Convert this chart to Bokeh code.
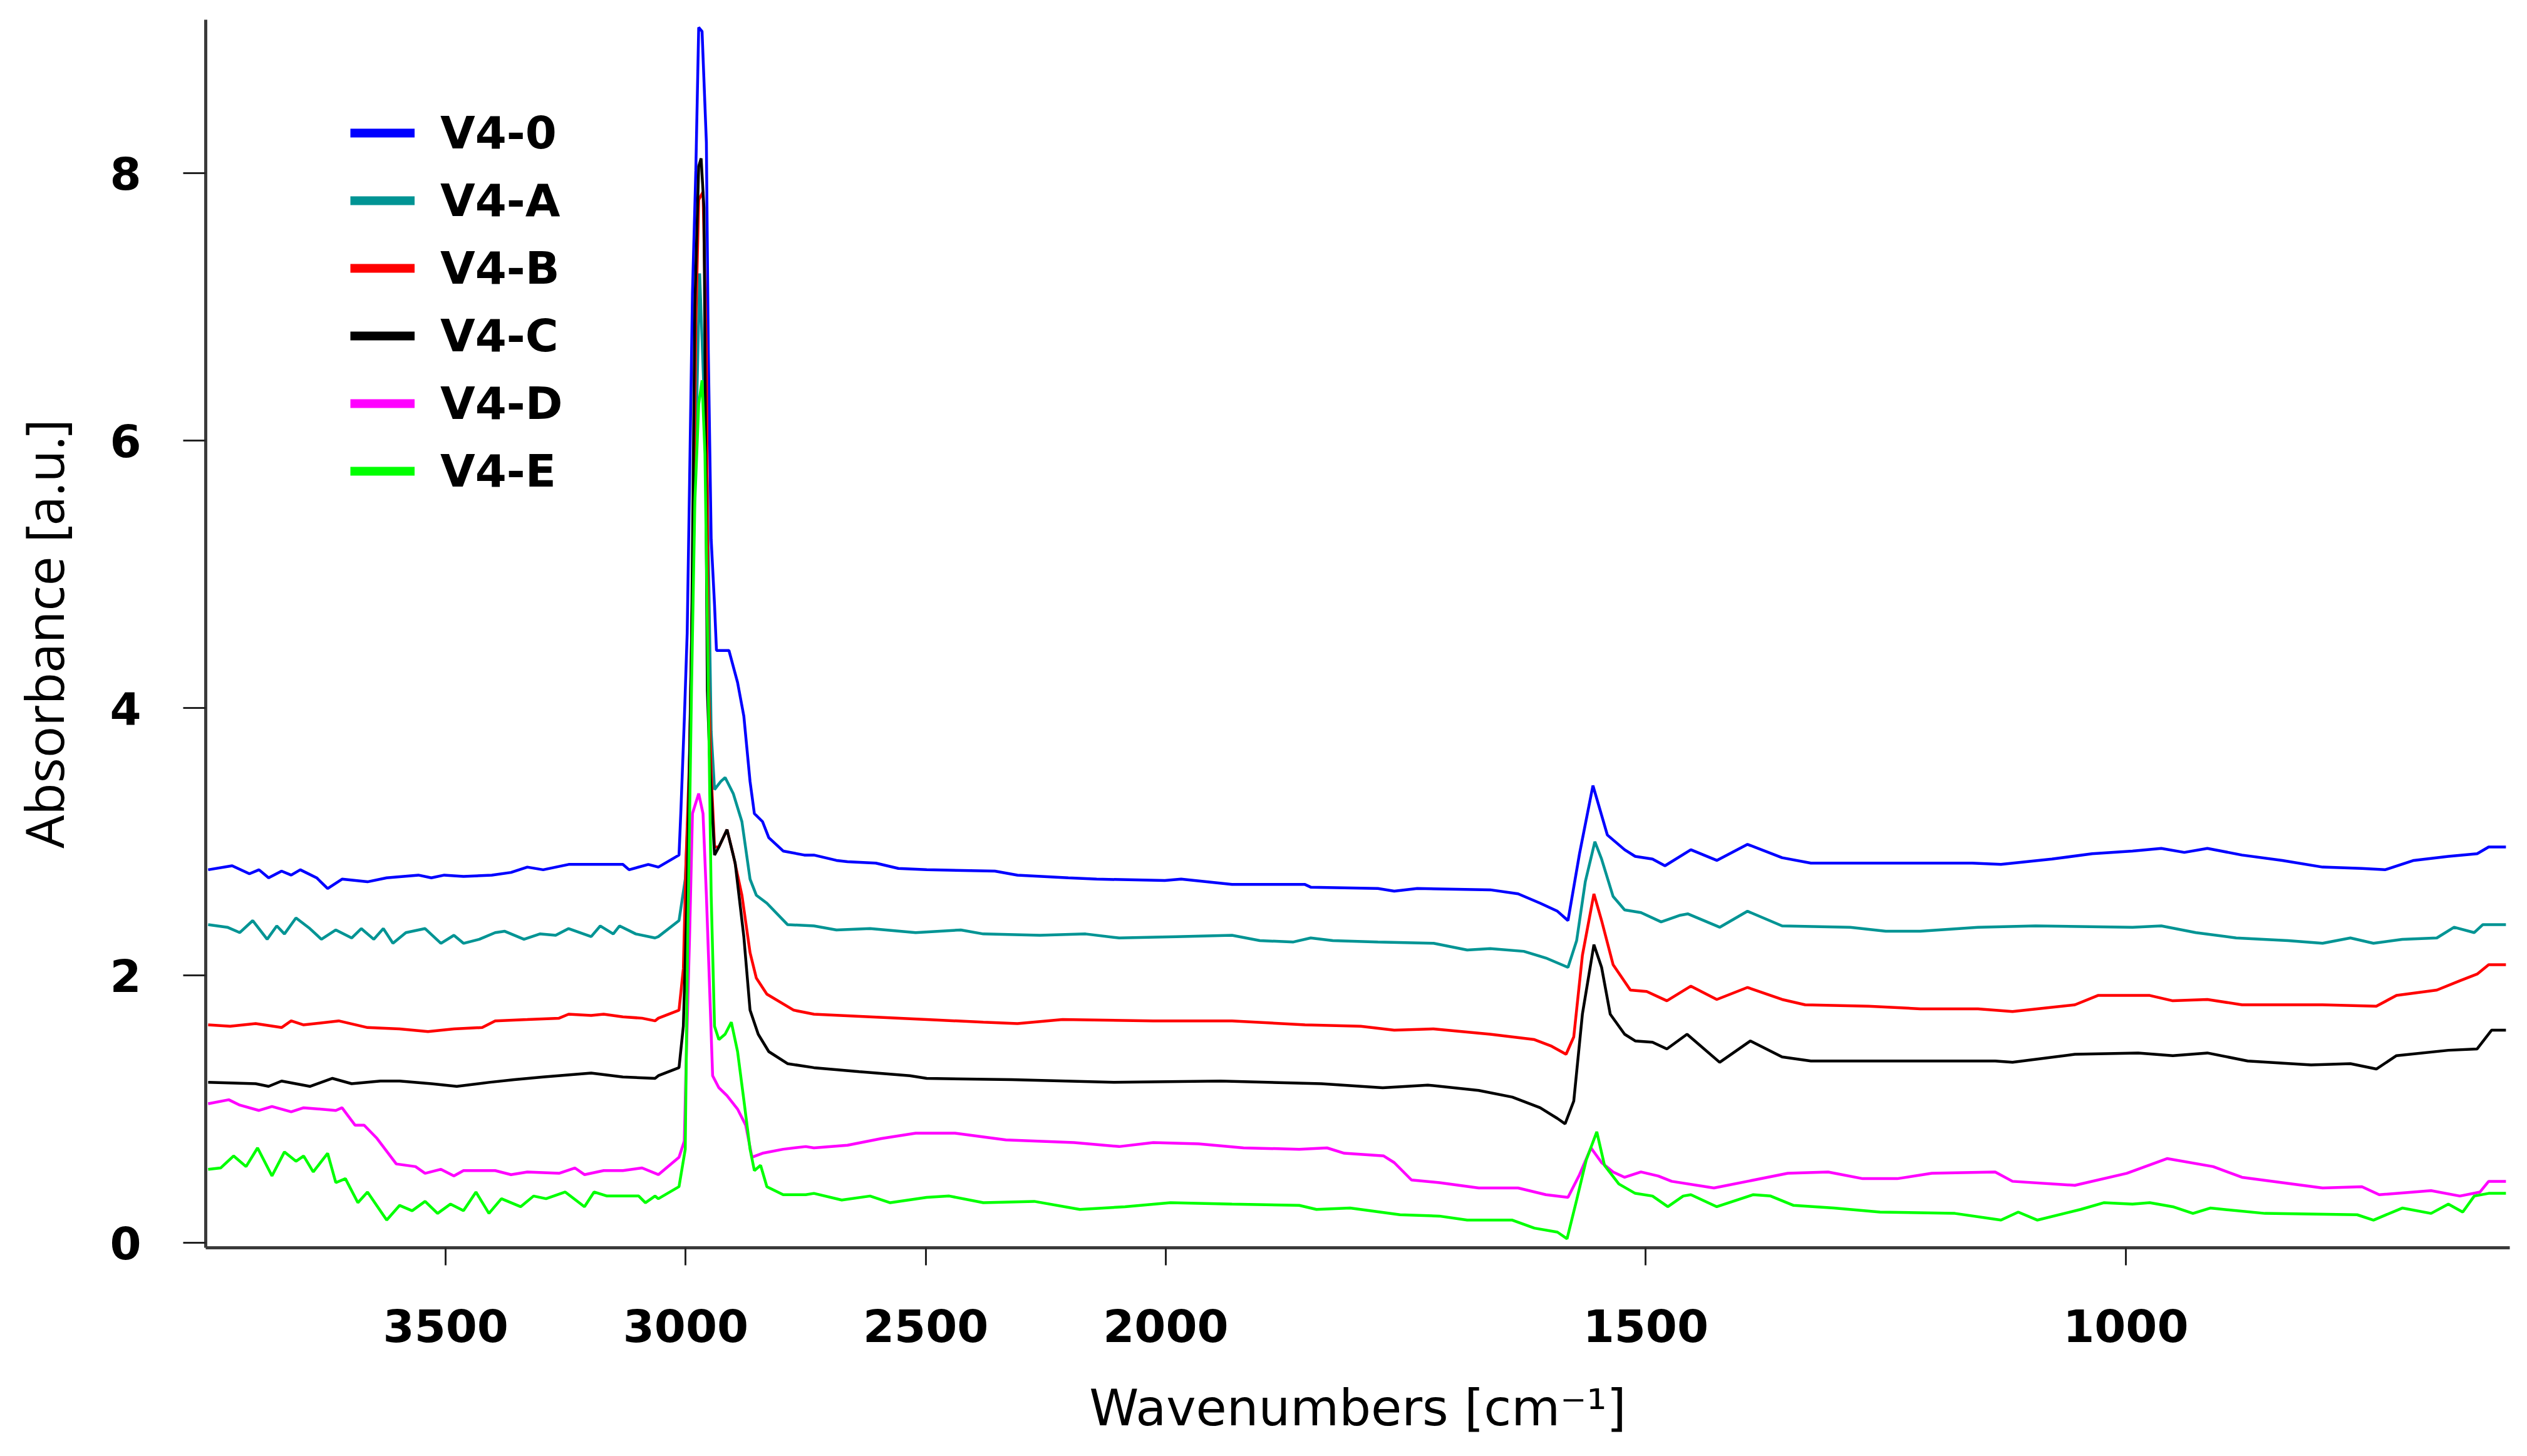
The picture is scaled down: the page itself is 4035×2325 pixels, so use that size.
import numpy as np
from bokeh.plotting import figure
from bokeh.models import Range1d, FixedTicker, Legend, LegendItem
from bokeh.embed import file_html
from bokeh.resources import INLINE

# ---------------- data (wavenumber cm^-1, absorbance a.u.) ----------------
V4_0 = [(3995,2.79),(3945,2.82),(3909,2.76),(3889,2.79),(3869,2.73),(3842,2.78),(3822,2.75),(3803,2.79),
        (3769,2.73),(3746,2.65),(3716,2.72),(3663,2.70),(3623,2.73),(3557,2.75),(3530,2.73),(3503,2.75),
        (3463,2.74),(3404,2.75),(3364,2.77),(3330,2.81),(3297,2.79),(3244,2.83),(3131,2.83),(3118,2.79),
        (3078,2.83),(3057,2.81),(3014,2.90),(3010,3.24),(3003,3.91),(2997,4.56),(2992,5.69),(2986,7.10),
        (2979,8.02),(2973,9.09),(2966,9.06),(2957,8.23),(2953,6.67),(2947,5.26),(2940,4.77),(2936,4.43),
        (2910,4.43),(2892,4.19),(2879,3.94),(2866,3.45),(2857,3.21),(2840,3.15),(2827,3.03),(2797,2.93),
        (2753,2.90),(2733,2.90),(2686,2.86),(2663,2.85),(2604,2.84),(2557,2.80),(2498,2.79),(2356,2.78),
        (2309,2.75),(2203,2.73),(2144,2.72),(2002,2.71),(1984,2.72),(1931,2.68),(1855,2.68),(1849,2.66),
        (1779,2.65),(1762,2.63),(1738,2.65),(1662,2.64),(1633,2.61),(1610,2.54),(1592,2.48),(1581,2.41),
        (1569,2.91),(1555,3.42),(1540,3.05),(1522,2.94),(1511,2.89),(1493,2.87),(1480,2.82),(1453,2.94),
        (1426,2.86),(1394,2.98),(1358,2.88),(1328,2.84),(1160,2.84),(1130,2.83),(1077,2.87),(1035,2.91),
        (993,2.93),(963,2.95),(939,2.92),(915,2.95),(879,2.90),(837,2.86),(795,2.81),(754,2.80),
        (730,2.79),(700,2.86),(664,2.89),(634,2.91),(622,2.96),(604,2.96)]

V4_A = [(3995,2.38),(3955,2.36),(3929,2.32),(3902,2.41),(3872,2.27),(3852,2.37),(3836,2.31),(3812,2.43),
        (3783,2.35),(3759,2.27),(3729,2.34),(3696,2.28),(3676,2.35),(3650,2.27),(3630,2.35),(3610,2.24),
        (3583,2.32),(3543,2.35),(3510,2.24),(3483,2.30),(3463,2.24),(3430,2.27),(3397,2.32),(3377,2.33),
        (3337,2.27),(3304,2.31),(3271,2.30),(3244,2.35),(3197,2.29),(3178,2.37),(3151,2.31),(3138,2.37),
        (3104,2.31),(3064,2.28),(3057,2.29),(3014,2.41),(3001,2.72),(2994,3.30),(2988,4.49),(2981,5.66),
        (2971,7.25),(2955,5.66),(2947,3.82),(2940,3.39),(2927,3.45),(2918,3.48),(2901,3.36),(2883,3.15),
        (2866,2.72),(2853,2.60),(2831,2.54),(2788,2.38),(2733,2.37),(2686,2.34),(2616,2.35),(2521,2.32),
        (2427,2.34),(2380,2.31),(2262,2.30),(2167,2.31),(2097,2.28),(1989,2.29),(1931,2.30),(1902,2.26),
        (1867,2.25),(1849,2.28),(1826,2.26),(1779,2.25),(1721,2.24),(1686,2.19),(1662,2.20),(1627,2.18),
        (1604,2.13),(1581,2.06),(1572,2.26),(1563,2.70),(1553,3.00),(1546,2.87),(1534,2.59),(1522,2.49),
        (1505,2.47),(1484,2.40),(1464,2.45),(1456,2.46),(1423,2.36),(1394,2.48),(1358,2.37),(1287,2.36),
        (1250,2.33),(1214,2.33),(1154,2.36),(1094,2.37),(993,2.36),(963,2.37),(927,2.32),(885,2.28),
        (831,2.26),(795,2.24),(766,2.28),(742,2.24),(712,2.27),(676,2.28),(658,2.36),(637,2.32),
        (628,2.38),(604,2.38)]

V4_B = [(3995,1.63),(3949,1.62),(3896,1.64),(3842,1.61),(3822,1.66),(3796,1.63),(3723,1.66),(3663,1.61),
        (3596,1.60),(3537,1.58),(3483,1.60),(3424,1.61),(3397,1.66),(3330,1.67),(3264,1.68),(3244,1.71),
        (3197,1.70),(3171,1.71),(3131,1.69),(3091,1.68),(3064,1.66),(3057,1.68),(3014,1.74),(3005,2.05),
        (2999,2.90),(2992,3.64),(2983,5.54),(2979,6.88),(2973,7.80),(2964,7.86),(2957,6.64),(2953,4.25),
        (2947,3.51),(2940,2.96),(2931,2.96),(2914,3.09),(2901,2.90),(2883,2.60),(2866,2.17),(2853,1.98),
        (2831,1.86),(2775,1.74),(2733,1.71),(2616,1.69),(2498,1.67),(2380,1.65),(2309,1.64),(2215,1.67),
        (2026,1.66),(1931,1.66),(1855,1.63),(1797,1.62),(1762,1.59),(1721,1.60),(1662,1.56),(1616,1.52),
        (1598,1.47),(1583,1.41),(1575,1.54),(1566,2.15),(1554,2.61),(1546,2.41),(1534,2.08),(1516,1.89),
        (1499,1.88),(1478,1.81),(1453,1.92),(1426,1.82),(1394,1.91),(1358,1.82),(1334,1.78),(1268,1.77),
        (1214,1.75),(1154,1.75),(1118,1.73),(1053,1.78),(1029,1.85),(975,1.85),(951,1.81),(915,1.82),
        (879,1.78),(795,1.78),(739,1.77),(718,1.85),(676,1.89),(652,1.96),(634,2.01),(622,2.08),(604,2.08)]

V4_C = [(3995,1.20),(3896,1.19),(3869,1.17),(3842,1.21),(3783,1.17),(3736,1.23),(3696,1.19),(3636,1.21),
        (3596,1.21),(3530,1.19),(3477,1.17),(3410,1.20),(3357,1.22),(3297,1.24),(3197,1.27),(3131,1.24),
        (3064,1.23),(3057,1.25),(3014,1.31),(3005,1.62),(2997,2.60),(2988,4.43),(2981,7.01),(2973,8.05),
        (2968,8.11),(2962,7.74),(2955,4.13),(2949,3.51),(2940,2.90),(2931,2.96),(2914,3.09),(2897,2.84),
        (2879,2.29),(2866,1.74),(2849,1.56),(2827,1.43),(2788,1.34),(2733,1.31),(2639,1.28),(2533,1.25),
        (2498,1.23),(2321,1.22),(2108,1.20),(1943,1.21),(1838,1.19),(1774,1.16),(1727,1.18),(1674,1.14),
        (1639,1.09),(1610,1.01),(1592,0.93),(1584,0.89),(1575,1.06),(1566,1.71),(1554,2.23),(1546,2.06),
        (1537,1.71),(1522,1.56),(1511,1.51),(1493,1.50),(1478,1.45),(1457,1.56),(1423,1.35),(1391,1.51),
        (1358,1.39),(1328,1.36),(1136,1.36),(1118,1.35),(1053,1.41),(987,1.42),(951,1.40),(915,1.42),
        (873,1.36),(807,1.33),(766,1.34),(739,1.30),(718,1.40),(664,1.44),(634,1.45),(619,1.59),(604,1.59)]

V4_D = [(3995,1.04),(3952,1.07),(3929,1.03),(3889,0.99),(3862,1.02),(3822,0.98),(3796,1.01),(3729,0.99),
        (3716,1.01),(3689,0.88),(3670,0.88),(3643,0.78),(3603,0.59),(3563,0.57),(3543,0.52),(3510,0.55),
        (3483,0.50),(3463,0.54),(3397,0.54),(3364,0.51),(3330,0.53),(3264,0.52),(3231,0.56),(3211,0.51),
        (3171,0.54),(3131,0.54),(3091,0.56),(3057,0.51),(3014,0.64),(3003,0.76),(2999,1.37),(2992,2.29),
        (2986,3.21),(2973,3.36),(2964,3.21),(2957,2.60),(2951,1.98),(2944,1.25),(2931,1.16),(2914,1.10),
        (2892,1.00),(2875,0.88),(2862,0.64),(2840,0.67),(2797,0.70),(2750,0.72),(2733,0.71),(2663,0.73),
        (2592,0.78),(2521,0.82),(2439,0.82),(2333,0.77),(2191,0.75),(2097,0.72),(2026,0.75),(1966,0.74),
        (1919,0.71),(1861,0.70),(1832,0.71),(1814,0.67),(1773,0.65),(1762,0.60),(1744,0.47),(1715,0.45),
        (1674,0.41),(1633,0.41),(1604,0.36),(1581,0.34),(1569,0.51),(1557,0.71),(1546,0.60),(1534,0.53),
        (1522,0.49),(1505,0.53),(1487,0.50),(1473,0.46),(1429,0.41),(1394,0.46),(1352,0.52),(1310,0.53),
        (1274,0.48),(1238,0.48),(1202,0.52),(1136,0.53),(1118,0.46),(1053,0.43),(999,0.52),(957,0.63),
        (909,0.57),(879,0.49),(795,0.41),(754,0.42),(736,0.36),(682,0.39),(652,0.35),(631,0.38),
        (622,0.46),(604,0.46)]

V4_E = [(3995,0.55),(3969,0.56),(3942,0.65),(3916,0.57),(3892,0.71),(3862,0.50),(3836,0.68),(3812,0.61),
        (3796,0.65),(3776,0.53),(3746,0.67),(3729,0.45),(3709,0.48),(3683,0.30),(3663,0.38),(3623,0.17),
        (3596,0.28),(3570,0.24),(3543,0.31),(3517,0.22),(3490,0.29),(3463,0.24),(3437,0.38),(3410,0.22),
        (3384,0.33),(3344,0.27),(3317,0.35),(3291,0.33),(3251,0.38),(3211,0.27),(3191,0.38),(3164,0.35),
        (3098,0.35),(3084,0.30),(3064,0.35),(3057,0.33),(3014,0.42),(3001,0.70),(2997,1.98),(2988,4.13),
        (2981,5.54),(2973,6.27),(2966,6.45),(2960,5.90),(2953,4.13),(2947,2.60),(2940,1.62),(2931,1.52),
        (2918,1.56),(2905,1.65),(2892,1.43),(2879,1.07),(2866,0.70),(2857,0.54),(2844,0.58),(2831,0.42),
        (2797,0.36),(2750,0.36),(2733,0.37),(2675,0.32),(2616,0.35),(2574,0.30),(2498,0.34),(2451,0.35),
        (2380,0.30),(2274,0.31),(2179,0.25),(2085,0.27),(1995,0.30),(1931,0.29),(1861,0.28),(1843,0.25),
        (1808,0.26),(1756,0.21),(1715,0.20),(1686,0.17),(1639,0.17),(1616,0.11),(1592,0.08),(1582,0.03),
        (1572,0.32),(1562,0.62),(1551,0.83),(1543,0.58),(1528,0.44),(1511,0.37),(1493,0.35),(1477,0.27),
        (1461,0.35),(1453,0.36),(1426,0.27),(1388,0.36),(1370,0.35),(1346,0.28),(1304,0.26),(1256,0.23),
        (1178,0.22),(1130,0.17),(1112,0.23),(1092,0.17),(1047,0.25),(1023,0.30),(993,0.29),(975,0.30),
        (951,0.27),(930,0.22),(912,0.26),(855,0.22),(759,0.21),(742,0.17),(712,0.26),(682,0.22),
        (664,0.29),(649,0.23),(637,0.35),(622,0.37),(604,0.37)]

SERIES = ["V4-0", "V4-A", "V4-B", "V4-C", "V4-D", "V4-E"]
COLORS = ["#0000ff", "#009494", "#ff0000", "#000000", "#ff00ff", "#00ff00"]
X_TICKS = [3500, 3000, 2500, 2000, 1500, 1000]
Y_TICKS = [0, 2, 4, 6, 8]
WN_LEFT, WN_BREAK, WN_RIGHT = 4000, 2000, 600
X_TITLE = "Wavenumbers [cm⁻¹]"
Y_TITLE = "Absorbance [a.u.]"


def axis_pos(wn):
    """Spectrometer-style axis: region below 2000 cm-1 is expanded 2x."""
    wn = np.asarray(wn, dtype=float)
    return np.where(wn >= WN_BREAK, WN_LEFT - wn, (WN_LEFT - WN_BREAK) + 2.0 * (WN_BREAK - wn))


x_end = float(axis_pos([WN_RIGHT])[0])

p = figure(width=4015, height=2305, output_backend="svg", toolbar_location=None,
           x_range=Range1d(0, x_end), y_range=Range1d(-0.037, 9.147),
           min_border_left=328, min_border_right=8, min_border_top=31, min_border_bottom=313)
p.outline_line_color = None
p.grid.visible = False
p.background_fill_color = "white"

renderers = []
for name, data, col in zip(SERIES, [V4_0, V4_A, V4_B, V4_C, V4_D, V4_E], COLORS):
    wn = [d[0] for d in data]
    ab = [d[1] for d in data]
    p.line(axis_pos(wn), ab, line_color=col, line_width=4.5)
    dummy = p.line(np.array([np.nan]), np.array([np.nan]), line_color=col, line_width=14)
    renderers.append((name, dummy))

# axes
p.xaxis.ticker = FixedTicker(ticks=[float(v) for v in axis_pos(X_TICKS)])
p.xaxis.major_label_overrides = {float(v): str(t) for v, t in zip(axis_pos(X_TICKS), X_TICKS)}
p.yaxis.ticker = FixedTicker(ticks=Y_TICKS)

for ax in (p.xaxis[0], p.yaxis[0]):
    ax.axis_line_width = 5
    ax.axis_line_color = "#3a3a3a"
    ax.major_tick_line_width = 3
    ax.major_tick_line_color = "#222222"
    ax.major_tick_in = 0
    ax.minor_tick_line_color = None
    ax.major_label_text_font = "DejaVu Sans"
    ax.major_label_text_font_style = "bold"
    ax.major_label_text_font_size = "72px"
    ax.major_label_text_color = "black"
    ax.axis_label_text_font_style = "normal"
    ax.axis_label_text_color = "black"

p.xaxis.major_tick_out = 28
p.xaxis.major_label_standoff = 69
p.xaxis.axis_label = X_TITLE
p.xaxis.axis_label_text_font = "DejaVu Sans"
p.xaxis.axis_label_text_font_size = "80px"
p.xaxis.axis_label_standoff = 56

p.yaxis.major_tick_out = 36
p.yaxis.major_label_standoff = 67
p.yaxis.axis_label = Y_TITLE
p.yaxis.axis_label_text_font = "Open Sans"
p.yaxis.axis_label_text_font_size = "84px"
p.yaxis.axis_label_standoff = 45

legend = Legend(items=[LegendItem(label=n, renderers=[r]) for n, r in renderers],
                location=(231, 1198), orientation="vertical",
                glyph_width=103, glyph_height=84, label_height=84, spacing=24,
                label_standoff=41, padding=0, margin=0,
                label_text_font="DejaVu Sans", label_text_font_style="bold",
                label_text_font_size="72px", label_text_color="black",
                border_line_color=None, background_fill_alpha=0)
p.add_layout(legend)

open("out.html", "w").write(file_html(p, INLINE))
